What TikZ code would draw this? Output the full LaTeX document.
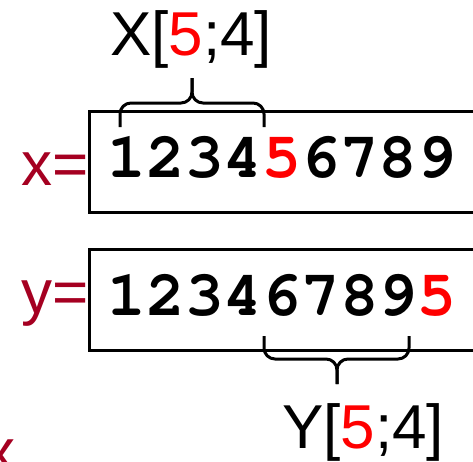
\documentclass[tikz,border=0pt]{standalone}
\usepackage{fontspec}
\setmainfont{Liberation Sans}
\definecolor{lab}{RGB}{165,0,33}
\begin{document}
\begin{tikzpicture}[x=1pt,y=-1pt,
  seq/.style={inner sep=0pt, font=\fontencoding{OT1}\fontfamily{pcr}\fontseries{b}\fontsize{64.5}{64}\selectfont},
  lbl/.style={inner sep=0pt, text=lab, font=\fontsize{62}{62}\selectfont},
  idxlabel/.style={inner sep=0pt, font=\fontsize{62}{62}\selectfont},
  seqbox/.style={draw, line width=3pt, inner sep=0pt, anchor=north west, minimum width=440pt, minimum height=101pt},
  bracepath/.style={draw, line width=3pt, rounded corners=11pt}]
\useasboundingbox (0,0) rectangle (473,461);
\clip (0,0) rectangle (473,461);
% boxes
\node[seqbox] (xbox) at (88,110) {};
\node[seqbox] (ybox) at (88,248) {};
% sequences
\node[seq, anchor=base] (xs) at (282,177) {1234\textcolor{red}{5}6789};
\node[seq, anchor=base] (ys) at (282,315) {12346789\textcolor{red}{5}};
% labels
\node[lbl, anchor=base east] (xl) at (89,185) {x=};
\node[lbl, anchor=base east] (yl) at (89,313) {y=};
\node[lbl, anchor=base west] (xc) at (-16,472) {x};
\node[idxlabel, anchor=base west] (xt) at (110,55) {X[\textcolor{red}{5};4]};
\node[idxlabel, anchor=base west] (yt) at (282,448) {Y[\textcolor{red}{5};4]};
% braces
\coordinate (tbL) at (120,127);
\coordinate (tbR) at (264,127);
\coordinate (tbT) at (192,78);
\draw[bracepath] (tbL) -- (120,103) -- (192,103) -- (tbT);
\draw[bracepath] (tbR) -- (264,103) -- (192,103) -- (tbT);
\coordinate (bbL) at (264,336);
\coordinate (bbR) at (409,336);
\coordinate (bbT) at (337,384);
\draw[bracepath] (bbL) -- (264,359) -- (337,359) -- (bbT);
\draw[bracepath] (bbR) -- (409,359) -- (337,359) -- (bbT);
\end{tikzpicture}
\end{document}
